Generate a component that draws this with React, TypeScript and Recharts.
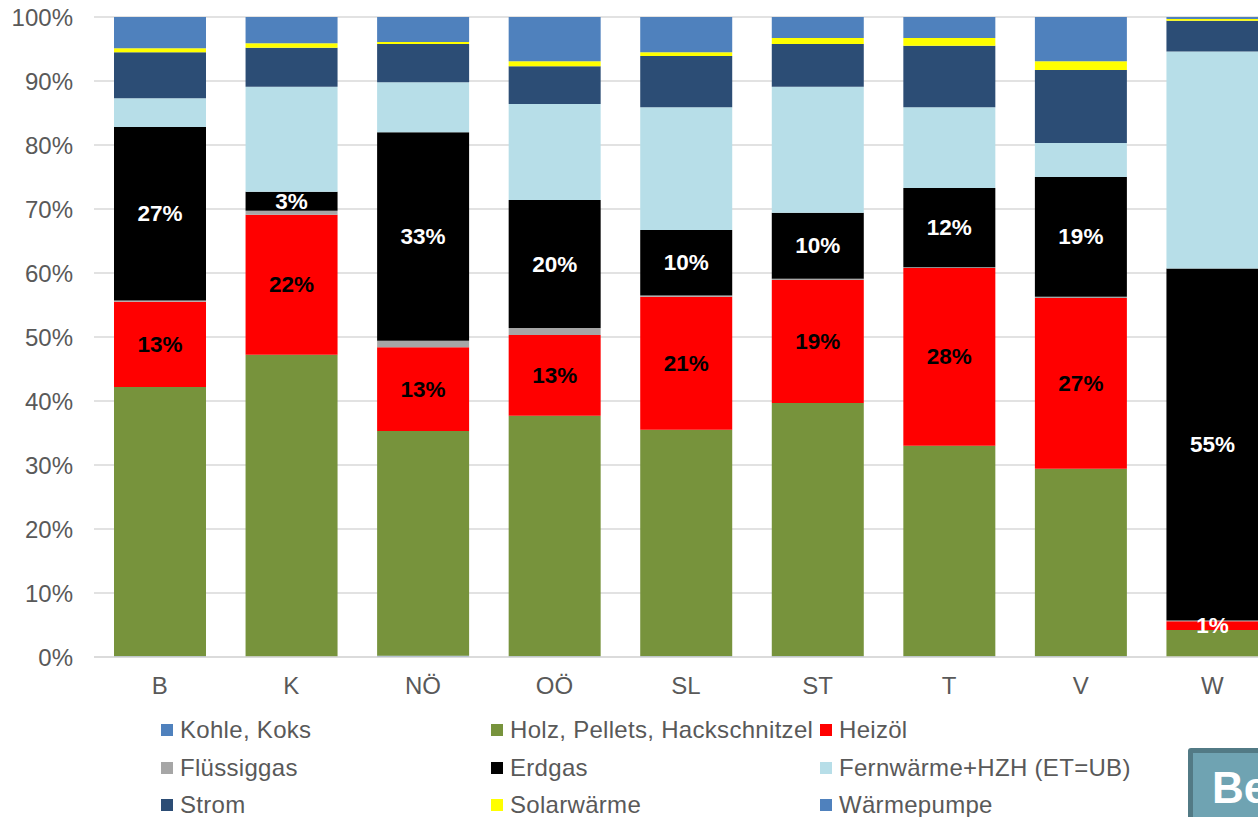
import React from 'react';
import { BarChart, Bar, XAxis, YAxis, CartesianGrid, LabelList } from 'recharts';

// ---- data ----
const regions = ['B', 'K', 'NÖ', 'OÖ', 'SL', 'ST', 'T', 'V', 'W'];
const kohle = [0.1, 0.05, 0.2, 0.1, 0.1, 0.1, 0.1, 0.1, 0.0];
const holz = [42.1, 47.2, 35.1, 37.6, 35.4, 39.6, 32.9, 29.3, 4.2];
const heizoel = [13.3, 21.9, 13.1, 12.6, 20.8, 19.2, 27.8, 26.7, 1.4];
const fluessiggas = [0.2, 0.6, 1.0, 1.1, 0.2, 0.2, 0.1, 0.2, 0.1];
const erdgas = [27.1, 3.0, 32.6, 20.0, 10.2, 10.3, 12.4, 18.7, 55.0];
const fernwaerme = [4.5, 16.4, 7.8, 15.0, 19.2, 19.7, 12.6, 5.3, 33.9];
const strom = [7.2, 6.1, 6.0, 5.9, 8.0, 6.7, 9.6, 11.4, 4.8];
const solar = [0.6, 0.7, 0.3, 0.8, 0.6, 0.9, 1.2, 1.4, 0.3];
const waermepumpe = [4.9, 4.1, 3.9, 6.9, 5.5, 3.3, 3.3, 6.9, 0.3];
const yTicks = [0, 0.1, 0.2, 0.3, 0.4, 0.5, 0.6, 0.7, 0.8, 0.9, 1.0];

const seriesNames = [
  'Kohle, Koks',
  'Holz, Pellets, Hackschnitzel',
  'Heizöl',
  'Flüssiggas',
  'Erdgas',
  'Fernwärme+HZH (ET=UB)',
  'Strom',
  'Solarwärme',
  'Wärmepumpe',
];
const seriesKeys = ['kohle', 'holz', 'heizoel', 'fluessiggas', 'erdgas', 'fernwaerme', 'strom', 'solar', 'waermepumpe'];
const seriesValues = [kohle, holz, heizoel, fluessiggas, erdgas, fernwaerme, strom, solar, waermepumpe];
const seriesColors = ['#4F81BD', '#77933C', '#FF0000', '#A6A6A6', '#000000', '#B7DEE8', '#2C4D75', '#FFFF00', '#4F81BD'];

const data = regions.map((r, i) => {
  const row: Record<string, any> = { region: r };
  seriesKeys.forEach((k, s) => {
    row[k] = seriesValues[s][i];
  });
  return row;
});

const FONT = '"Liberation Sans", Arial, sans-serif';

const makeLabel = (colorFor: (region: string) => string) => (props: any) => {
  const { x, y, width, height, value, index } = props;
  const region = regions[index];
  return (
    <text
      x={x + width / 2}
      y={y + height / 2}
      textAnchor="middle"
      dominantBaseline="central"
      fill={colorFor(region)}
      fontSize={22.5}
      fontWeight="bold"
      fontFamily={FONT}
    >
      {`${Math.round(Number(value))}%`}
    </text>
  );
};

const heizoelLabel = makeLabel((r) => (r === 'W' ? '#FFFFFF' : '#000000'));
const erdgasLabel = makeLabel(() => '#FFFFFF');

const legendCols = [161, 491, 820];
const legendRows = [730, 768, 805];

export default function App() {
  return (
    <div
      style={{
        position: 'absolute',
        left: 0,
        top: 0,
        width: 1258,
        height: 817,
        overflow: 'hidden',
        background: '#FFFFFF',
        fontFamily: FONT,
      }}
    >
      <BarChart
        width={1290}
        height={700}
        data={data}
        stackOffset="expand"
        margin={{ top: 17, right: 12, left: 0, bottom: 3 }}
        style={{ position: 'absolute', left: 0, top: 0 }}
      >
        <CartesianGrid vertical={false} stroke="#D9D9D9" strokeWidth={1.5} />
        <XAxis
          dataKey="region"
          height={40}
          tickLine={false}
          axisLine={{ stroke: '#D9D9D9', strokeWidth: 1.5 }}
          tickMargin={14}
          tick={{ fontSize: 24, fill: '#595959', fontFamily: FONT }}
          interval={0}
        />
        <YAxis
          width={94}
          domain={[0, 1]}
          ticks={yTicks}
          tickFormatter={(v: number) => `${Math.round(v * 100)}%`}
          axisLine={false}
          tickLine={false}
          tickMargin={15}
          tick={{ fontSize: 24, fill: '#595959', fontFamily: FONT }}
        />
        {seriesKeys.map((k, s) => (
          <Bar
            key={k}
            dataKey={k}
            name={seriesNames[s]}
            stackId="a"
            fill={seriesColors[s]}
            barSize={92}
            isAnimationActive={false}
          >
            {k === 'heizoel' && <LabelList dataKey="heizoel" content={heizoelLabel} />}
            {k === 'erdgas' && <LabelList dataKey="erdgas" content={erdgasLabel} />}
          </Bar>
        ))}
      </BarChart>

      {seriesNames.map((name, s) => {
        const col = s % 3;
        const row = Math.floor(s / 3);
        return (
          <div
            key={name}
            style={{
              position: 'absolute',
              left: legendCols[col],
              top: legendRows[row] - 11,
              height: 22,
              lineHeight: '22px',
              display: 'flex',
              alignItems: 'center',
              whiteSpace: 'nowrap',
              fontSize: 24,
              letterSpacing: 0.3,
              color: '#595959',
              fontFamily: FONT,
            }}
          >
            <span
              style={{
                display: 'inline-block',
                width: 12,
                height: 12,
                background: seriesColors[s],
                marginRight: 7,
              }}
            />
            <span>{name}</span>
          </div>
        );
      })}

      <div
        style={{
          position: 'absolute',
          left: 1188,
          top: 748,
          width: 140,
          height: 110,
          boxSizing: 'border-box',
          background: '#6FA3B2',
          border: '5px solid #527A85',
          borderRadius: 3,
          color: '#FFFFFF',
          fontWeight: 'bold',
          fontSize: 44,
          fontFamily: FONT,
          paddingLeft: 19,
          paddingTop: 10,
          lineHeight: '50px',
        }}
      >
        Be
      </div>
    </div>
  );
}
